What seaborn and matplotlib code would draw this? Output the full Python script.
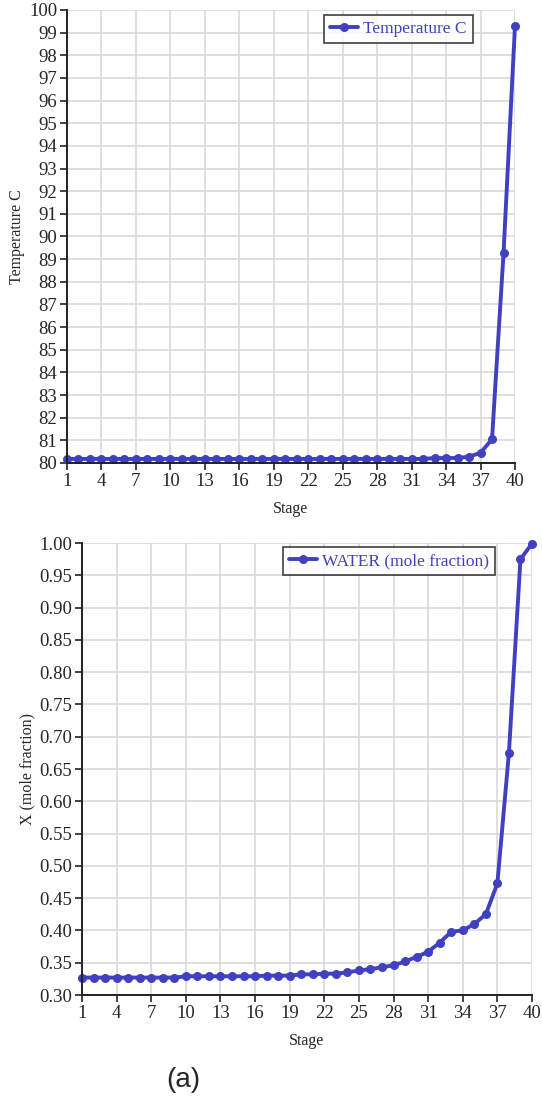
import matplotlib
matplotlib.use("Agg")
import matplotlib.pyplot as plt
import seaborn as sns
import pandas as pd

# Column profile: stage-by-stage temperature and water mole fraction
stages = list(range(1, 41))
temperature_c = [80.18] * 32 + [80.22, 80.22, 80.22, 80.28, 80.45, 81.05, 89.25, 99.3]
water_x = [0.327, 0.327, 0.327, 0.327, 0.327, 0.327, 0.327, 0.327, 0.327,
           0.329, 0.329, 0.329, 0.329, 0.329, 0.329, 0.329,
           0.330, 0.330, 0.330, 0.332, 0.332, 0.333, 0.333, 0.335,
           0.338, 0.340, 0.343, 0.346, 0.352, 0.359, 0.367, 0.381,
           0.398, 0.400, 0.410, 0.425, 0.473, 0.675, 0.975, 0.999]
x_ticks = list(range(1, 41, 3))
temp_ticks = list(range(80, 101))
water_ticks = [0.30 + 0.05 * i for i in range(15)]

df_t = pd.DataFrame({"Stage": stages, "Temperature C": temperature_c})
df_w = pd.DataFrame({"Stage": stages, "WATER (mole fraction)": water_x})

sns.set_style("white")
plt.rcParams["font.family"] = ["Liberation Serif", "DejaVu Serif"]

W, H = 542, 1097
fig = plt.figure(figsize=(W / 100, H / 100), dpi=100)

def px_axes(left, top, right, bottom):
    return fig.add_axes([left / W, 1 - bottom / H, (right - left) / W, (bottom - top) / H])

line_color = "#4040c0"
grid_color = "#d9d9d9"

def style_axes(ax, yticks, yfmt, ylim):
    ax.set_xlim(1, 40)
    ax.set_ylim(*ylim)
    ax.set_xticks(x_ticks)
    ax.set_yticks(yticks)
    ax.set_yticklabels([yfmt(v) for v in yticks])
    ax.grid(True, color=grid_color, linewidth=1.2)
    ax.set_axisbelow(True)
    for s in ("top", "right"):
        ax.spines[s].set_visible(False)
    for s in ("left", "bottom"):
        ax.spines[s].set_color("#222222")
        ax.spines[s].set_linewidth(1.4)
    ax.tick_params(axis="both", which="major", direction="out", length=5, width=1.2,
                   color="#222222", labelsize=13.5, pad=2, bottom=True, left=True)
    ax.set_xlabel("Stage", fontsize=11.5, labelpad=8)

def add_legend(ax, loc_box):
    leg = ax.legend(loc="upper left", bbox_to_anchor=loc_box, frameon=True, fancybox=False,
                    fontsize=12.5, labelcolor=line_color, handlelength=1.6,
                    handletextpad=0.3, borderpad=0.35, borderaxespad=0)
    leg.get_frame().set_edgecolor("#111111")
    leg.get_frame().set_linewidth(1.2)

# Temperature profile
ax1 = px_axes(67, 10, 515, 463)
sns.lineplot(data=df_t, x="Stage", y="Temperature C", ax=ax1, color=line_color,
             linewidth=2.8, marker="o", markersize=6.5, markeredgewidth=0,
             label="Temperature C", clip_on=False)
style_axes(ax1, temp_ticks, lambda v: f"{v:d}", (80, 100))
ax1.set_ylabel("Temperature C", fontsize=11.5, labelpad=3)
add_legend(ax1, ((324 - 67) / (515 - 67), (463 - 15) / (463 - 10)))

# Water liquid mole fraction profile
ax2 = px_axes(82, 543, 532, 995)
sns.lineplot(data=df_w, x="Stage", y="WATER (mole fraction)", ax=ax2, color=line_color,
             linewidth=2.8, marker="o", markersize=6.5, markeredgewidth=0,
             label="WATER (mole fraction)", clip_on=False)
style_axes(ax2, water_ticks, lambda v: f"{v:.2f}", (0.30, 1.00))
ax2.set_ylabel("X (mole fraction)", fontsize=11.5, labelpad=3)
add_legend(ax2, ((283 - 82) / (532 - 82), (995 - 547) / (995 - 543)))

fig.text(183 / W, 1 - 1080 / H, "(a)", fontsize=20, family="Liberation Sans",
         ha="center", va="center")

fig.savefig("out.png", dpi=100)
